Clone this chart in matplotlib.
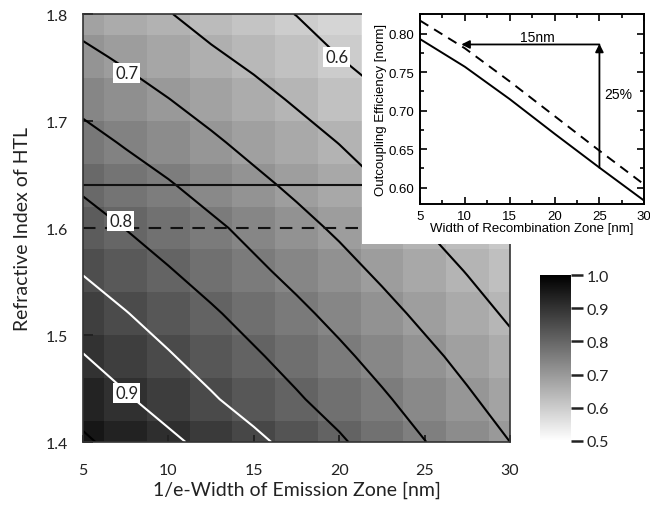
import matplotlib.pyplot as plt
from matplotlib.patches import Rectangle
from matplotlib.ticker import MultipleLocator, FormatStrFormatter

# emission zone width [nm] (columns) and refractive index of HTL (rows)
width_nm = [5, 7.5, 10, 12.5, 15, 17.5, 20, 22.5, 25, 27.5, 30]
n_htl = [1.40, 1.44, 1.48, 1.52, 1.56, 1.60, 1.64, 1.68, 1.72, 1.76, 1.80]

# normalized outcoupling efficiency, one row per refractive index
eff = [
    [.957, .933, .910, .885, .861, .834, .806, .778, .751, .726, .700],  # 1.40
    [.930, .905, .880, .855, .830, .805, .781, .756, .731, .706, .681],  # 1.44
    [.902, .878, .854, .830, .806, .783, .759, .735, .711, .687, .663],  # 1.48
    [.875, .852, .829, .806, .783, .760, .737, .714, .690, .667, .644],  # 1.52
    [.847, .825, .803, .781, .759, .737, .715, .692, .670, .648, .626],  # 1.56
    [.820, .799, .778, .759, .737, .714, .693, .671, .650, .629, .608],  # 1.60
    [.793, .772, .754, .732, .711, .691, .671, .650, .630, .610, .589],  # 1.64
    [.765, .746, .726, .707, .687, .668, .649, .629, .610, .590, .571],  # 1.68
    [.738, .719, .701, .682, .664, .645, .623, .604, .589, .571, .552],  # 1.72
    [.710, .693, .675, .657, .640, .622, .600, .582, .569, .552, .534],  # 1.76
    [.683, .666, .652, .633, .616, .599, .583, .566, .549, .532, .516],  # 1.80
]
levels = [0.55, 0.60, 0.65, 0.70, 0.75, 0.80, 0.85, 0.90, 0.95]
level_text = ['0.9', '0.8', '0.7', '0.6']
level_pos = [(7.55, 1.446), (7.2, 1.607), (7.55, 1.745), (19.85, 1.76)]

n_solid = 1.64
n_dashed = 1.60

# inset: efficiency vs width of recombination zone
rec_width = [5, 10, 15, 20, 25, 30]
eff_solid = [0.793, 0.757, 0.715, 0.670, 0.626, 0.583]
eff_dashed = [0.817, 0.781, 0.738, 0.693, 0.648, 0.604]

main_font = 'Lato'
ins_font = 'Liberation Sans'
txt = '#222222'

fig = plt.figure(figsize=(6.5, 5.06), dpi=100)
ax = fig.add_axes([0.1277, 0.1245, 0.657, 0.8458])

mesh = ax.pcolormesh(width_nm, n_htl, eff, shading='nearest', cmap='gray_r',
                     vmin=0.5, vmax=1.0)
line_cols = ['white' if 0.84 < l < 0.91 else 'black' for l in levels]
ax.contour(width_nm, n_htl, eff, levels=levels, colors=line_cols, linewidths=1.5)
ax.axhline(n_solid, color='#111111', lw=1.5)
ax.axhline(n_dashed, color='#111111', lw=1.5, ls=(0, (6, 4.5)))

for t, (px, py) in zip(level_text, level_pos):
    ax.text(px, py, t, ha='center', va='center', fontsize=12, family=main_font,
            color=txt, zorder=5,
            bbox=dict(facecolor='white', edgecolor='none', pad=1.5))

ax.set_xlim(5, 30)
ax.set_ylim(1.4, 1.8)
ax.set_xticks([5, 10, 15, 20, 25, 30])
ax.set_yticks([1.4, 1.5, 1.6, 1.7, 1.8])
ax.tick_params(axis='y', direction='in', length=7, width=1.4, pad=11,
               labelsize=11.5, colors=txt)
ax.tick_params(axis='x', direction='in', length=5, width=1.4, pad=15,
               labelsize=11.5, colors=txt)
for lab in ax.get_xticklabels() + ax.get_yticklabels():
    lab.set_family(main_font)
for s in ax.spines.values():
    s.set_color('#333333')
    s.set_linewidth(1.2)
ax.set_xlabel('1/e-Width of Emission Zone [nm]', fontsize=14, family=main_font,
              color=txt, labelpad=3)
ax.set_ylabel('Refractive Index of HTL', fontsize=14, family=main_font,
              color=txt, labelpad=10)

# colorbar
cax = fig.add_axes([0.8308, 0.1265, 0.0477, 0.328])
cb = fig.colorbar(mesh, cax=cax, ticks=[0.5, 0.6, 0.7, 0.8, 0.9, 1.0])
cb.outline.set_visible(False)
cb.ax.yaxis.set_major_formatter(FormatStrFormatter('%.1f'))
cax.tick_params(length=8.5, width=1.8, pad=3, labelsize=11.5, colors=txt)
for lab in cax.get_yticklabels():
    lab.set_family(main_font)

# white background behind the inset
fig.add_artist(Rectangle((0.557, 0.5158), 0.443, 0.4842, transform=fig.transFigure,
                         facecolor='white', edgecolor='none', zorder=1))

axi = fig.add_axes([0.6462, 0.5949, 0.345, 0.3755])
axi.set_zorder(2)
axi.plot(rec_width, eff_solid, color='black', lw=1.4)
axi.plot(rec_width, eff_dashed, color='black', lw=1.4, ls=(0, (5, 3.5)))
axi.annotate('', xy=(25, 0.787), xytext=(25, 0.626),
             arrowprops=dict(arrowstyle='-|>', color='black', lw=1.3,
                             mutation_scale=12, shrinkA=0, shrinkB=0))
axi.annotate('', xy=(9.6, 0.786), xytext=(25, 0.786),
             arrowprops=dict(arrowstyle='-|>', color='black', lw=1.3,
                             mutation_scale=12, shrinkA=0, shrinkB=0))
axi.text(18.1, 0.796, '15nm', ha='center', va='center', fontsize=10,
         family=ins_font)
axi.text(27.1, 0.7216, '25%', ha='center', va='center', fontsize=10,
         family=ins_font)
axi.set_xlim(5, 30)
axi.set_ylim(0.5788, 0.8256)
axi.xaxis.set_major_locator(MultipleLocator(5))
axi.xaxis.set_minor_locator(MultipleLocator(2.5))
axi.yaxis.set_major_locator(MultipleLocator(0.05))
axi.yaxis.set_minor_locator(MultipleLocator(0.025))
axi.yaxis.set_major_formatter(FormatStrFormatter('%.2f'))
axi.tick_params(which='both', direction='in', top=True, right=True, width=1.2)
axi.tick_params(which='major', length=5, pad=4, labelsize=9.5)
axi.tick_params(which='minor', length=3)
for lab in axi.get_xticklabels() + axi.get_yticklabels():
    lab.set_family(ins_font)
for s in axi.spines.values():
    s.set_linewidth(1.4)
axi.set_xlabel('Width of Recombination Zone [nm]', fontsize=9.5,
               family=ins_font, labelpad=0)
axi.set_ylabel('Outcoupling Efficiency [norm]', fontsize=9.5,
               family=ins_font, labelpad=1)

fig.savefig('out.png', dpi=100)
